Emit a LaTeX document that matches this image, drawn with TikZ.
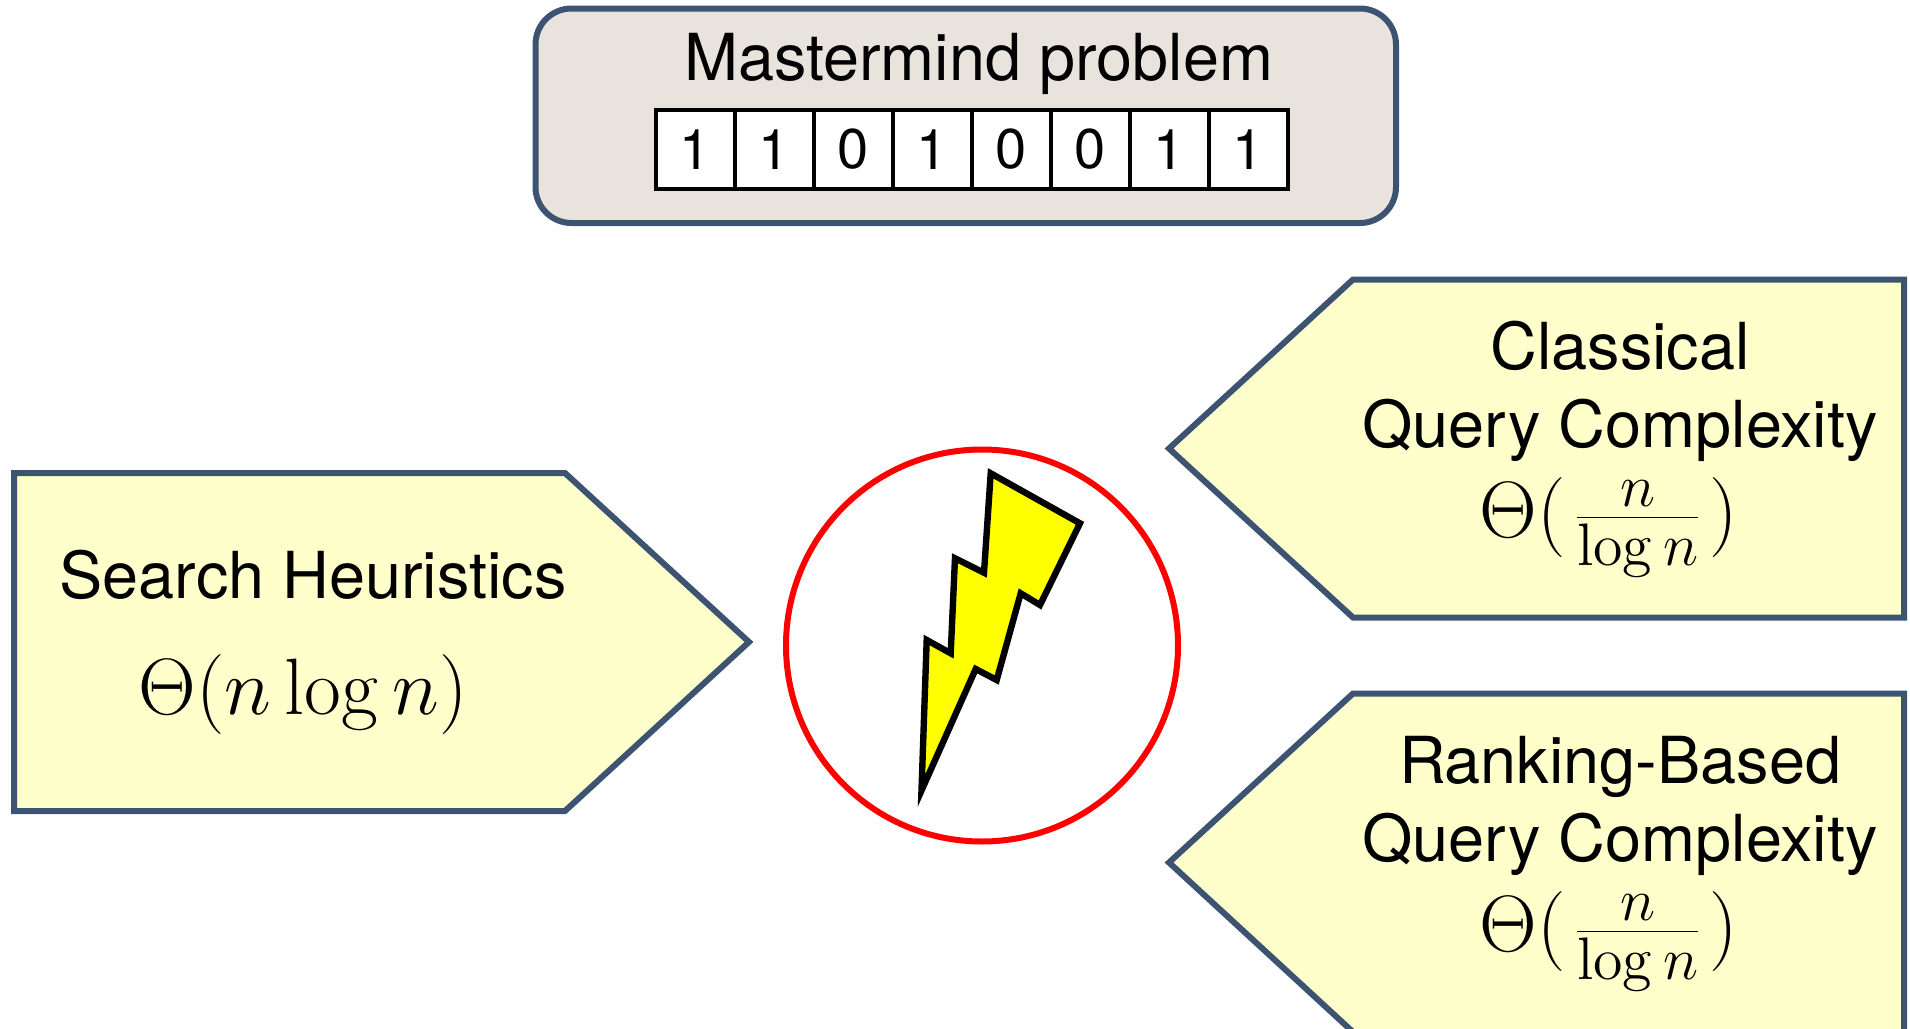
\RequirePackage{fix-cm}
\documentclass[tikz,border=0pt]{standalone}
\usepackage[no-math]{fontspec}
\setmainfont{TeX Gyre Heros}
\DeclareMathSizes{20}{20}{15}{10}
\definecolor{edgeblue}{HTML}{3C5372}
\definecolor{paleyellow}{HTML}{FFFFCC}
\definecolor{greybox}{HTML}{E8E4DD}
\definecolor{boltyellow}{HTML}{FFFF00}
\definecolor{ringred}{HTML}{FF0000}
\tikzset{
  pent/.style={draw=edgeblue,fill=paleyellow,line width=1.5pt,miter limit=10},
  lab/.style={inner sep=0pt,anchor=base,font=\fontsize{16.2}{19}\selectfont},
  form/.style={inner sep=0pt,anchor=base,font=\fontsize{20}{24}\selectfont},
  cell/.style={draw=black,fill=white,line width=1.2pt,minimum width=19.75pt,minimum height=19.75pt,inner sep=0pt,font=\fontsize{14}{16}\selectfont},
}
\begin{document}
\begin{tikzpicture}[x=0.25pt,y=-0.25pt]
\useasboundingbox (0,0) rectangle (1910,1029);
% top box
\draw[draw=edgeblue,fill=greybox,line width=1.5pt,rounded corners=9pt] (535.5,8.5) rectangle (1396,223);
\node[lab] (title) at (978.5,80) {Mastermind problem};
\foreach \i/\d in {0/1,1/1,2/0,3/1,4/0,5/0,6/1,7/1}{
  \node[cell] (c\i) at ({695.5+\i*79},149.5) {\raisebox{-1.4pt}{\d}};
}
% left pentagon
\draw[pent] (14,473) -- (565,473) -- (749,642) -- (565,811) -- (14,811) -- cycle;
\node[lab] (sh) at (313,598) {Search Heuristics};
\node[form] (shf) at (303,714) {$\Theta(n\log n)$};
% upper right pentagon
\draw[pent] (1904,279.5) -- (1353,279.5) -- (1169,448.5) -- (1353,617.5) -- (1904,617.5) -- cycle;
\node[lab] (cl1) at (1620,369) {Classical};
\node[lab] (cl2) at (1620,447) {Query Complexity};
\node[form] (clf) at (1609,537.5) {$\Theta(\mkern1.5mu\frac{n}{\log n}\mkern1.5mu)$};
% lower right pentagon
\draw[pent] (1904,693.5) -- (1353,693.5) -- (1169,862.5) -- (1353,1032) -- (1904,1032) -- cycle;
\node[lab] (rk1) at (1620,783) {Ranking-Based};
\node[lab] (rk2) at (1620,861) {Query Complexity};
\node[form] (rkf) at (1609,951.5) {$\Theta(\mkern1.5mu\frac{n}{\log n}\mkern1.5mu)$};
% circle and bolt
\node[circle,draw=ringred,fill=white,line width=1.5pt,minimum size=98pt,inner sep=0pt] (clash) at (982,645.5) {};
\draw[draw=black,fill=boltyellow,line width=1.6pt,miter limit=10]
  (990.7,473.3) -- (1080,523.3) -- (1040,605) -- (1020.7,593.3) -- (996.7,680) -- (975.7,669)
  -- (921.5,790.5) -- (926.7,640) -- (950.7,653.3) -- (955,558.3) -- (984,572.7) -- cycle;
\end{tikzpicture}
\end{document}
